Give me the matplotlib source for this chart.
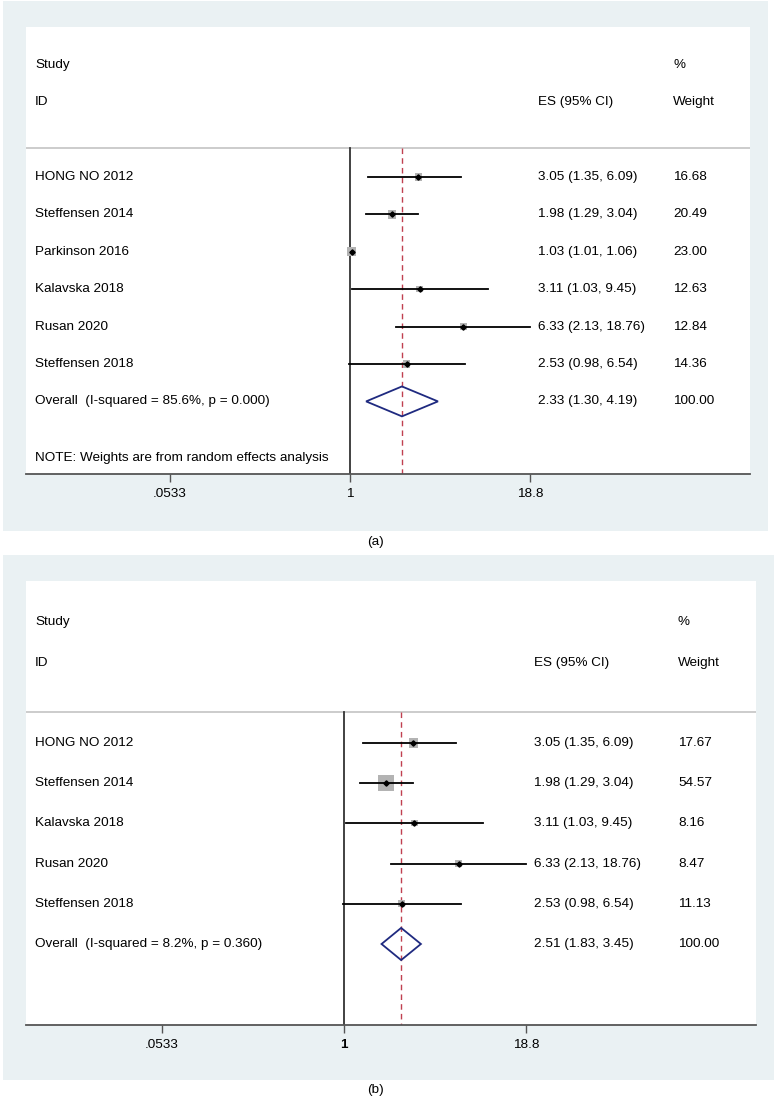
import matplotlib
matplotlib.use("Agg")
import matplotlib.pyplot as plt
import numpy as np
import matplotlib.patches as patches

plt.rcParams['font.family'] = ['Liberation Sans', 'DejaVu Sans']

# Panel (a) data
studies_a = ["HONG NO 2012", "Steffensen 2014", "Parkinson 2016", "Kalavska 2018",
             "Rusan 2020", "Steffensen 2018"]
es_a = [3.05, 1.98, 1.03, 3.11, 6.33, 2.53]
lo_a = [1.35, 1.29, 1.01, 1.03, 2.13, 0.98]
hi_a = [6.09, 3.04, 1.06, 9.45, 18.76, 6.54]
weight_a = [16.68, 20.49, 23.00, 12.63, 12.84, 14.36]
overall_a = [2.33, 1.30, 4.19]
overall_label_a = "Overall  (I-squared = 85.6%, p = 0.000)"
note_a = "NOTE: Weights are from random effects analysis"

# Panel (b) data
studies_b = ["HONG NO 2012", "Steffensen 2014", "Kalavska 2018", "Rusan 2020", "Steffensen 2018"]
es_b = [3.05, 1.98, 3.11, 6.33, 2.53]
lo_b = [1.35, 1.29, 1.03, 2.13, 0.98]
hi_b = [6.09, 3.04, 9.45, 18.76, 6.54]
weight_b = [17.67, 54.57, 8.16, 8.47, 11.13]
overall_b = [2.51, 1.83, 3.45]
overall_label_b = "Overall  (I-squared = 8.2%, p = 0.360)"

tick_vals = [0.0533, 1, 18.8]
tick_labels = [".0533", "1", "18.8"]

W, H = 777, 1099
BG = '#EAF1F3'
FS = 9.7

fig = plt.figure(figsize=(W / 100, H / 100), dpi=100)
fig.patch.set_facecolor('white')


def draw_panel(bg_box, box, x1, scale, r0, dr, studies, es, lo, hi, weight, overall,
               overall_label, note, es_x, w_x, box_k, label, label_y, bold_one):
    # grey graph region
    bl, bt, br, bb = bg_box
    fig.add_artist(patches.Rectangle((bl / W, 1 - bb / H), (br - bl) / W, (bb - bt) / H,
                                     transform=fig.transFigure, facecolor=BG,
                                     edgecolor='none', zorder=0))
    l, t, r, b = box
    ax = fig.add_axes([l / W, 1 - b / H, (r - l) / W, (b - t) / H])
    ax.set_facecolor('white')
    ax.set_xscale('log')
    ax.set_xlim(np.exp((l - x1) / scale), np.exp((r - x1) / scale))
    ybot = (b - r0) / dr
    ax.set_ylim(ybot, (t - r0) / dr)
    for s in ['top', 'left', 'right']:
        ax.spines[s].set_visible(False)
    ax.spines['bottom'].set_color('#555555')
    ax.spines['bottom'].set_linewidth(1.3)
    ax.set_yticks([])
    ax.set_xticks(tick_vals)
    ax.set_xticklabels(tick_labels)
    ax.minorticks_off()
    ax.tick_params(axis='x', direction='out', length=6, width=1.0, color='#555555',
                   labelsize=FS, pad=4)
    if bold_one:
        ax.get_xticklabels()[1].set_fontweight('bold')

    tr = ax.get_yaxis_transform()
    tx = 9 / (r - l)
    ex = (es_x - l) / (r - l)
    wx = (w_x - l) / (r - l)
    line_y = -0.78

    # headers
    ax.text(tx, -3, "Study", transform=tr, fontsize=FS, va='center')
    ax.text(tx, -2, "ID", transform=tr, fontsize=FS, va='center')
    ax.text(ex, -2, "ES (95% CI)", transform=tr, fontsize=FS, va='center')
    ax.text(wx, -3, "%", transform=tr, fontsize=FS, va='center')
    ax.text(wx, -2, "Weight", transform=tr, fontsize=FS, va='center')
    ax.axhline(line_y, color='#C8C8C8', lw=1.3)

    n = len(studies)
    ov = overall[0]
    ax.plot([1, 1], [line_y, ybot], color='#333333', lw=1.3, zorder=2)
    ax.plot([ov, ov], [line_y, ybot], color='#C04050', lw=1.0, ls=(0, (4, 3)), zorder=2)

    rows = np.arange(n)
    for i in range(n):
        side = box_k * np.sqrt(weight[i]) * 0.72
        ax.scatter([es[i]], [rows[i]], marker='s', s=side ** 2, color='#B3B3B3',
                   edgecolors='none', zorder=3)
        ax.plot([lo[i], hi[i]], [rows[i], rows[i]], color='black', lw=1.3, zorder=4)
        ax.plot([es[i]], [rows[i]], marker='D', ms=2.7, color='black', zorder=5)
        ax.text(tx, rows[i], studies[i], transform=tr, fontsize=FS, va='center')
        ax.text(ex, rows[i], f"{es[i]:.2f} ({lo[i]:.2f}, {hi[i]:.2f})", transform=tr,
                fontsize=FS, va='center')
        ax.text(wx, rows[i], f"{weight[i]:.2f}", transform=tr, fontsize=FS, va='center')

    # overall diamond
    oy = n
    h = 0.4
    dia = patches.Polygon([(overall[1], oy), (ov, oy - h), (overall[2], oy), (ov, oy + h)],
                          closed=True, facecolor='none', edgecolor='#1F2A80', lw=1.3,
                          zorder=5)
    ax.add_patch(dia)
    ax.text(tx, oy, overall_label, transform=tr, fontsize=FS, va='center')
    ax.text(ex, oy, f"{overall[0]:.2f} ({overall[1]:.2f}, {overall[2]:.2f})",
            transform=tr, fontsize=FS, va='center')
    ax.text(wx, oy, f"{sum(weight):.2f}", transform=tr, fontsize=FS, va='center')
    if note:
        ax.text(tx, oy + 1.5, note, transform=tr, fontsize=FS, va='center')

    fig.text(375 / W, 1 - label_y / H, label, ha='center', va='center', fontsize=FS)
    return ax


draw_panel((3, 1, 768, 531), (26, 27, 750, 474), 350, 61.4, 177, 37.4,
           studies_a, es_a, lo_a, hi_a, weight_a, overall_a, overall_label_a, note_a,
           538, 673, 1.85, "(a)", 542, False)
draw_panel((3, 555, 774, 1080), (26, 581, 756, 1025), 344, 62.1, 743, 40.2,
           studies_b, es_b, lo_b, hi_b, weight_b, overall_b, overall_label_b, None,
           534, 678, 2.17, "(b)", 1090, True)

fig.savefig("out.png", dpi=100)
